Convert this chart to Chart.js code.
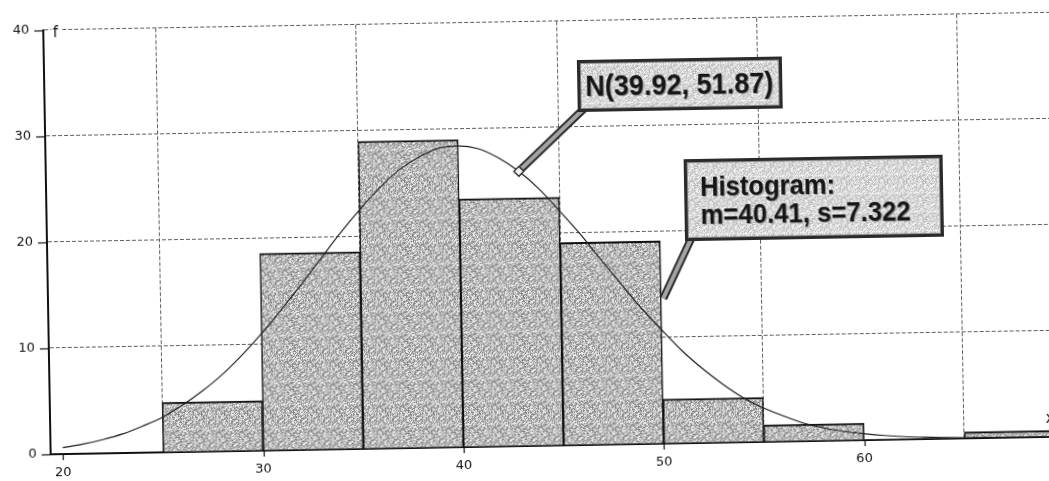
<!DOCTYPE html>
<html><head><meta charset="utf-8">
<script src="https://cdn.jsdelivr.net/npm/chart.js@4.4.1/dist/chart.umd.min.js"></script>
<style>
html,body{margin:0;padding:0;background:#fff;overflow:hidden;width:1049px;height:481px;}
#wrap{position:absolute;left:0;top:0;width:1062px;height:481px;transform:rotate(-1deg);transform-origin:524.5px 240.5px;}
canvas{display:block;}
</style></head><body>
<div id="wrap"><canvas id="c" width="1062" height="481"></canvas></div>
<script>
// ---- data ----
const binStarts = [25, 30, 35, 40, 45, 50, 55, 60, 65];
const binWidth = 5;
const binFreq = [4.7, 18.6, 29.0, 23.4, 19.1, 4.2, 1.6, 0, 0.6];

const curveX = [20,21,22,23,24,25,26,27,28,29,30,31,32,33,34,35,36,37,38,39,40,41,42,43,44,45,46,47,48,49,50,51,52,53,54,55,56,57,58,59,60,61,62,63,64,65,66,67,68,69,70];
const curveF = [0.6,0.9,1.3,1.8,2.5,3.3,4.4,5.7,7.2,9.0,11.0,13.2,15.5,17.9,20.3,22.5,24.5,26.2,27.4,28.2,28.4,28.1,27.2,25.9,24.2,22.1,19.9,17.5,15.1,12.8,10.7,8.7,7.0,5.5,4.2,3.2,2.4,1.7,1.2,0.85,0.6,0.4,0.26,0.17,0.11,0.07,0.05,0.03,0.02,0.01,0.01];

const xTicks = [20, 30, 40, 50, 60];
const yTicks = [0, 10, 20, 30, 40];
const xMin = 19.39, xMax = 70, yMin = 0, yMax = 40;

const labelNormal = 'N(39.92, 51.87)';
const labelHist = ['Histogram:', 'm=40.41, s=7.322'];
const yTitle = 'f';
const xTitle = 'x';
const normalPointerX = 43;          // where the N(...) call-out touches the curve
const histPointer = [50, 13.7];     // where the Histogram call-out touches the bars

// ---- stipple textures (deterministic hash, style only) ----
function makeStipple(size, base, spread) {
  const c = document.createElement('canvas'); c.width = size; c.height = size;
  const g = c.getContext('2d');
  for (let j = 0; j < size; j++) for (let i = 0; i < size; i++) {
    const h = ((i * 73856093) ^ (j * 19349663) ^ (i * j * 83492791)) >>> 0;
    const t = (h % 1000) / 1000;
    const v = Math.max(0, Math.min(255, Math.round(base + (t - 0.5) * spread)));
    g.fillStyle = `rgb(${v},${v},${v})`; g.fillRect(i, j, 1, 1);
  }
  return g.createPattern(c, 'repeat');
}
const barFill = makeStipple(23, 186, 130);
const boxFill = makeStipple(19, 216, 76);

// ---- custom drawing: tick marks, axis titles, call-outs ----
const extras = {
  id: 'extras',
  afterDraw(chart) {
    const {ctx, scales: {x, y}, chartArea: a} = chart;
    ctx.save();
    ctx.strokeStyle = '#111'; ctx.lineWidth = 1.2;
    yTicks.forEach(v => { const p = Math.round(y.getPixelForValue(v)) + 0.5; ctx.beginPath(); ctx.moveTo(a.left - 9, p); ctx.lineTo(a.left, p); ctx.stroke(); });
    xTicks.forEach(v => { const p = Math.round(x.getPixelForValue(v)) + 0.5; ctx.beginPath(); ctx.moveTo(p, a.bottom); ctx.lineTo(p, a.bottom + 6); ctx.stroke(); });

    ctx.font = '15px "DejaVu Sans"';
    ctx.textAlign = 'center'; ctx.textBaseline = 'alphabetic';
    const fx = x.getPixelForValue(xTicks[0]), fy = y.getPixelForValue(yMax);
    ctx.fillStyle = '#fff'; ctx.fillRect(fx - 4, fy - 7, 9, 14);
    ctx.fillStyle = '#111'; ctx.fillText(yTitle, fx, fy + 7);
    ctx.fillText(xTitle, x.getPixelForValue(69.3), y.getPixelForValue(1.8) + 5);

    const drawPointer = (x1, y1, x2, y2) => {
      ctx.lineCap = 'butt';
      ctx.strokeStyle = '#2a2a2a'; ctx.lineWidth = 8;
      ctx.beginPath(); ctx.moveTo(x1, y1); ctx.lineTo(x2, y2); ctx.stroke();
      ctx.strokeStyle = '#a4a4a4'; ctx.lineWidth = 4;
      ctx.beginPath(); ctx.moveTo(x1, y1); ctx.lineTo(x2, y2); ctx.stroke();
    };
    const nx = x.getPixelForValue(normalPointerX);
    const ny = y.getPixelForValue(curveF[curveX.indexOf(normalPointerX)]);
    drawPointer(586, 110, nx + 3, ny - 3);
    ctx.fillStyle = '#f2f2f2'; ctx.strokeStyle = '#222'; ctx.lineWidth = 1.3;
    ctx.beginPath(); ctx.moveTo(nx, ny - 5); ctx.lineTo(nx + 5, ny); ctx.lineTo(nx, ny + 5); ctx.lineTo(nx - 5, ny); ctx.closePath();
    ctx.fill(); ctx.stroke();

    const hx = x.getPixelForValue(histPointer[0]), hy = y.getPixelForValue(histPointer[1]);
    drawPointer(691, 242, hx + 2, hy);

    const drawBox = (bx, by, bw, bh) => {
      ctx.fillStyle = boxFill; ctx.fillRect(bx, by, bw, bh);
      ctx.strokeStyle = '#2a2a2a'; ctx.lineWidth = 3; ctx.strokeRect(bx + 1.5, by + 1.5, bw - 3, bh - 3);
      ctx.strokeStyle = '#8a8a8a'; ctx.lineWidth = 1; ctx.strokeRect(bx + 3.5, by + 3.5, bw - 7, bh - 7);
    };
    const shadowText = (t, tx, ty, mw) => {
      ctx.fillStyle = '#9a9a9a'; ctx.fillText(t, tx + 1, ty + 1, mw);
      ctx.fillStyle = '#161616'; ctx.fillText(t, tx, ty, mw);
    };
    drawBox(580, 61, 205, 52);
    ctx.font = 'bold 30px "Liberation Sans"'; ctx.textAlign = 'center'; ctx.textBaseline = 'alphabetic';
    shadowText(labelNormal, 682, 97, 188);

    drawBox(685, 162, 259, 82);
    ctx.font = 'bold 28px "Liberation Sans"'; ctx.textAlign = 'left';
    shadowText(labelHist[0], 701, 199, 135);
    shadowText(labelHist[1], 701, 227, 210);
    ctx.restore();
  }
};

const gridCommon = { color: '#5e5e5e', lineWidth: 1, drawTicks: false };

new Chart(document.getElementById('c'), {
  type: 'bar',
  data: {
    datasets: [
      {
        type: 'line',
        data: curveX.map((v, i) => ({x: v, y: curveF[i]})),
        borderColor: '#1e1e1e', borderWidth: 1.2, pointRadius: 0,
        cubicInterpolationMode: 'monotone', fill: false, order: 0
      },
      {
        type: 'bar',
        data: binStarts.map((s, i) => ({x: s + binWidth / 2, y: binFreq[i]})),
        backgroundColor: barFill, borderColor: '#111',
        borderWidth: c => (c.raw && c.raw.y > 0) ? {top: 2, left: 1.5, right: 1.5, bottom: 0} : 0,
        borderSkipped: 'start',
        barPercentage: 1, categoryPercentage: 1, order: 1
      }
    ]
  },
  options: {
    responsive: false, animation: false, devicePixelRatio: 1,
    layout: { padding: { top: 20, left: 0, right: 1, bottom: 0 } },
    plugins: { legend: { display: false }, tooltip: { enabled: false } },
    scales: {
      x: {
        type: 'linear', min: xMin, max: xMax, offset: false,
        afterBuildTicks: s => { s.ticks = xTicks.map(v => ({value: v})); },
        afterFit: s => { s.height = 35; },
        grid: gridCommon,
        border: { display: true, color: '#111', width: 2, dash: [4, 2] },
        ticks: { padding: 11, color: '#111', font: { family: 'DejaVu Sans', size: 13 }, maxRotation: 0, autoSkip: false }
      },
      y: {
        type: 'linear', min: yMin, max: yMax,
        afterBuildTicks: s => { s.ticks = yTicks.map(v => ({value: v})); },
        afterFit: s => { s.width = 47; },
        grid: gridCommon,
        border: { display: true, color: '#111', width: 2, dash: [4, 2] },
        ticks: { padding: 14, color: '#111', font: { family: 'DejaVu Sans', size: 13 } }
      }
    }
  },
  plugins: [extras]
});
</script>
</body></html>
